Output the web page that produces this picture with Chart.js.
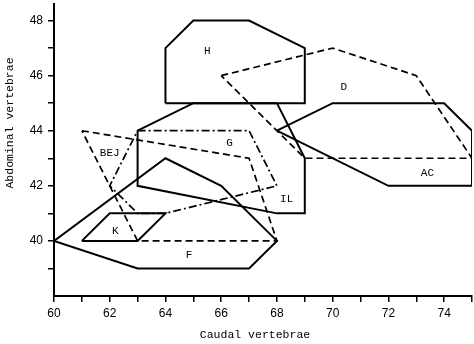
<!DOCTYPE html>
<html>
<head>
<meta charset="utf-8">
<script src="https://cdn.jsdelivr.net/npm/chart.js@4"></script>
<style>
  body { margin: 0; background: #fff; }
  canvas { display: block; }
</style>
</head>
<body>
<canvas id="chart" width="474" height="344"></canvas>
<script>
// polygon outlines, [caudal, abdominal] vertices
const polyH = [[64, 45], [64, 47], [65, 48], [67, 48], [69, 47], [69, 45]];
const polyD = [[66, 46], [70, 47], [73, 46], [75, 43], [69, 43]];
const polyAC = [[68, 44], [70, 45], [74, 45], [75, 44], [75, 42], [72, 42]];
const polyIL = [[63, 44], [65, 45], [68, 45], [69, 43], [69, 41], [68, 41], [63, 42]];
const polyG = [[63, 44], [67, 44], [68, 42], [64, 41], [63, 41], [62, 42]];
const polyBEJ = [[61, 44], [67, 43], [68, 40], [63, 40]];
const polyK = [[61, 40], [62, 41], [64, 41], [63, 40]];
const polyF = [[60, 40], [64, 43], [66, 42], [68, 40], [67, 39], [63, 39]];

// group names and where they are written
const groupNames = ['H', 'D', 'G', 'BEJ', 'IL', 'AC', 'K', 'F'];
const nameX = [65.5, 70.4, 66.3, 62.0, 68.35, 73.4, 62.2, 64.85];
const nameY = [46.9, 45.6, 43.55, 43.2, 41.5, 42.45, 40.35, 39.5];

const xTickLabels = [60, 62, 64, 66, 68, 70, 72, 74];
const yTickLabels = [40, 42, 44, 46, 48];

const SOLID = [];
const DASH = [7, 4];
const DASHDOT = [8, 3, 2, 3];

function closed(poly) {
    const pts = poly.map(p => ({ x: p[0], y: p[1] }));
    pts.push({ x: poly[0][0], y: poly[0][1] });
    return pts;
}

function outline(label, poly, dash) {
    return {
        label: label,
        data: closed(poly),
        showLine: true,
        borderColor: '#000',
        borderWidth: dash.length ? 1.7 : 2,
        borderDash: dash,
        pointRadius: 0,
        fill: false,
        tension: 0,
    };
}

const groupLabels = {
    id: 'groupLabels',
    afterDraw(chart) {
        const ctx = chart.ctx;
        const xs = chart.scales.x;
        const ys = chart.scales.y;
        ctx.save();
        ctx.fillStyle = '#000';
        ctx.textAlign = 'center';
        ctx.textBaseline = 'middle';
        ctx.font = '11px "Liberation Mono"';
        groupNames.forEach((name, i) => {
            ctx.fillText(name, xs.getPixelForValue(nameX[i]), ys.getPixelForValue(nameY[i]));
        });

        // axis titles
        ctx.font = '11.5px "Liberation Mono"';
        ctx.fillText('Caudal vertebrae', 255, 335);
        ctx.translate(10, 123);
        ctx.rotate(-Math.PI / 2);
        ctx.fillText('Abdominal vertebrae', 0, 0);
        ctx.restore();
    }
};

const tickFont = { family: '"Liberation Sans"', size: 12 };

new Chart(document.getElementById('chart'), {
    type: 'scatter',
    data: {
        datasets: [
            outline('H', polyH, SOLID),
            outline('D', polyD, DASH),
            outline('AC', polyAC, SOLID),
            outline('IL', polyIL, SOLID),
            outline('G', polyG, DASHDOT),
            outline('BEJ', polyBEJ, DASH),
            outline('K', polyK, SOLID),
            outline('F', polyF, SOLID),
        ],
    },
    options: {
        responsive: false,
        animation: false,
        layout: { padding: { top: 4, right: 2, left: 0, bottom: 0 } },
        plugins: {
            legend: { display: false },
            tooltip: { enabled: false },
        },
        scales: {
            x: {
                type: 'linear',
                min: 60,
                max: 75,
                afterFit: (scale) => {
                    scale.height = 48;
                    scale.paddingLeft = 0;
                    scale.paddingRight = 0;
                },
                afterBuildTicks: (scale) => {
                    scale.ticks = scale.ticks.filter(t => Number.isInteger(t.value));
                },
                ticks: {
                    stepSize: 1,
                    autoSkip: false,
                    maxRotation: 0,
                    color: '#000',
                    font: tickFont,
                    padding: 4,
                    callback: (v) => xTickLabels.includes(v) ? String(v) : '',
                },
                grid: {
                    drawOnChartArea: false,
                    drawTicks: true,
                    tickLength: 6,
                    color: '#000',
                    lineWidth: 1.5,
                },
                border: { display: true, color: '#000', width: 2 },
            },
            y: {
                type: 'linear',
                min: 38,
                max: 48.6,
                afterFit: (scale) => {
                    scale.width = 54;
                    scale.paddingTop = 0;
                    scale.paddingBottom = 0;
                },
                afterBuildTicks: (scale) => {
                    scale.ticks = scale.ticks.filter(t => Number.isInteger(t.value) && t.value > 38);
                },
                ticks: {
                    stepSize: 1,
                    autoSkip: false,
                    color: '#000',
                    font: tickFont,
                    padding: 5,
                    callback: (v) => yTickLabels.includes(v) ? String(v) : '',
                },
                grid: {
                    drawOnChartArea: false,
                    drawTicks: true,
                    tickLength: 6,
                    color: '#000',
                    lineWidth: 1.5,
                },
                border: { display: true, color: '#000', width: 2 },
            },
        },
    },
    plugins: [groupLabels],
});
</script>
</body>
</html>
